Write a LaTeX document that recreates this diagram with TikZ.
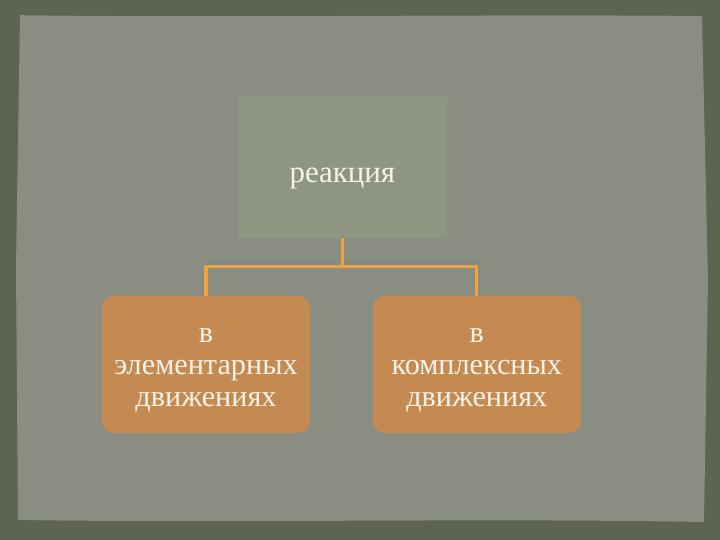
\documentclass[tikz,border=0pt]{standalone}
\usepackage{fontspec}
\setmainfont{Liberation Serif}
\usepackage{tikz}

\definecolor{frame}{HTML}{5D6450}
\definecolor{panel}{HTML}{8A8D81}
\definecolor{moss}{HTML}{8E9682}
\definecolor{clay}{HTML}{C48A52}
\definecolor{wire}{HTML}{F0A23C}
\definecolor{haze}{HTML}{7E8B8E}
\definecolor{chalk}{HTML}{F6F2E8}

\begin{document}
\begin{tikzpicture}
    [every label/.style = {align=center, text=chalk},
     head/.style = {fill=moss, minimum width=5.22cm, minimum height=3.52cm},
     leaf/.style = {fill=clay, rounded corners=8pt, minimum width=5.2cm, minimum height=3.42cm},
     headtext/.style = {yshift=-0.27cm, font=\fontsize{22}{26}\selectfont},
     leaftext/.style = {yshift=-0.15cm, font=\fontsize{21.5}{22.5}\selectfont},
     link/.style = {draw=wire, line width=2.2pt, preaction={draw=haze, line width=2.6pt, transform canvas={yshift=1.8pt}}}]
    % background
    \fill[frame] (0,0) rectangle (18,13.5);
    \fill[panel] (0.45,0.5) .. controls (6,0.42) and (12,0.55) .. (17.6,0.45)
      -- (17.7,6.5) -- (17.55,13.1)
      .. controls (12,13.15) and (6,13.05) .. (0.5,13.12) -- (0.4,6.8) -- cycle;

    \node[head, label={[headtext, name=reacttxt]center:реакция}] (react) at (8.56,9.31) {};
    \node[leaf, label={[leaftext, name=elemtxt]center:в\\элементарных\\движениях}] (elem) at (5.15,4.39) {};
    \node[leaf, label={[leaftext, name=compltxt]center:в\\комплексных\\движениях}] (compl) at (11.92,4.39) {};

    \coordinate (fork) at (8.56,6.83);
    \foreach \to in {elem,compl}
      \draw[link] (react) -- (fork) -| (\to);
  \end{tikzpicture}
\end{document}
